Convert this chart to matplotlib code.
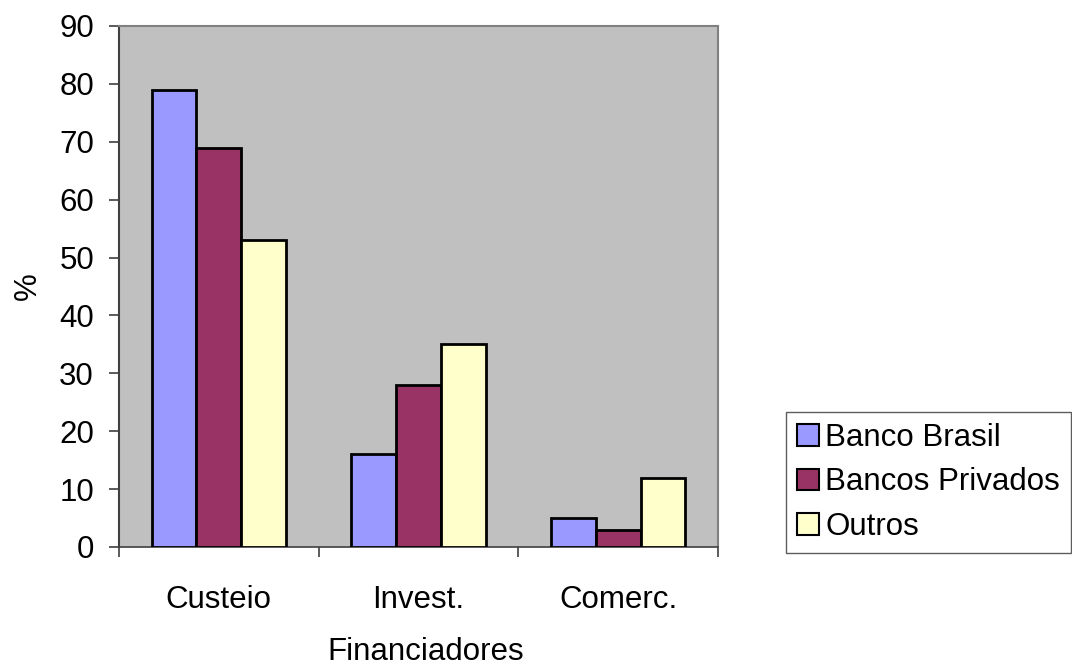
import matplotlib
matplotlib.use("Agg")
import matplotlib.pyplot as plt
import numpy as np

plt.rcParams['font.family'] = ['Liberation Sans', 'DejaVu Sans']

categories = ["Custeio", "Invest.", "Comerc."]
series_names = ["Banco Brasil", "Bancos Privados", "Outros"]
banco_brasil = [79, 16, 5]
bancos_privados = [69, 28, 3]
outros = [53, 35, 12]
colors = ["#9999FF", "#993366", "#FFFFCC"]
yticks = list(range(0, 91, 10))

FS = 22.5

fig = plt.figure(figsize=(10.72, 6.67), dpi=100)
ax = fig.add_axes([119/1072, 1-547/667, (718-119)/1072, (547-26)/667])
ax.set_facecolor("#C0C0C0")

x = np.arange(len(categories))
w = 0.224
for i, (vals, name, c) in enumerate(zip([banco_brasil, bancos_privados, outros], series_names, colors)):
    ax.bar(x + (i-1)*w, vals, w, color=c, edgecolor="black", linewidth=2, label=name, zorder=3)

ax.set_xlim(-0.5, 2.5)
ax.set_ylim(0, 90)
ax.set_yticks(yticks)
ax.set_xticks(x)
ax.set_xticklabels(categories)
ax.tick_params(axis='x', length=0, pad=27, labelsize=FS)
ax.set_xticks([-0.5, 0.5, 1.5, 2.5], minor=True)
ax.tick_params(axis='x', which='minor', length=7, direction='out', color='#404040', width=1.2)
ax.tick_params(axis='y', length=7, direction='out', color='#404040', width=1.2, labelsize=FS, pad=11)
for s in ['right', 'top']:
    ax.spines[s].set_color('#808080')
    ax.spines[s].set_linewidth(1.5)
ax.spines['left'].set_color('#404040')
ax.spines['left'].set_linewidth(1.5)
ax.spines['bottom'].set_color('#404040')
ax.spines['bottom'].set_linewidth(1.2)

ax.set_ylabel("%", fontsize=FS, labelpad=12)
ax.set_xlabel("Financiadores", fontsize=FS)
ax.xaxis.set_label_coords((426-119)/599, -(660-547)/521, transform=ax.transAxes)
ax.xaxis.label.set_va('baseline')

leg = fig.legend(loc='upper left', bbox_to_anchor=(786/1072, 1-412/667), fontsize=FS,
                 frameon=True, fancybox=False, borderpad=0.35, handlelength=0.69, handleheight=0.69,
                 handletextpad=0.22, labelspacing=0.46, borderaxespad=0)
leg.get_frame().set_edgecolor('#333333')
leg.get_frame().set_linewidth(1.0)
for h in leg.legend_handles:
    h.set_linewidth(1.5)

fig.savefig("out.png", dpi=100)
